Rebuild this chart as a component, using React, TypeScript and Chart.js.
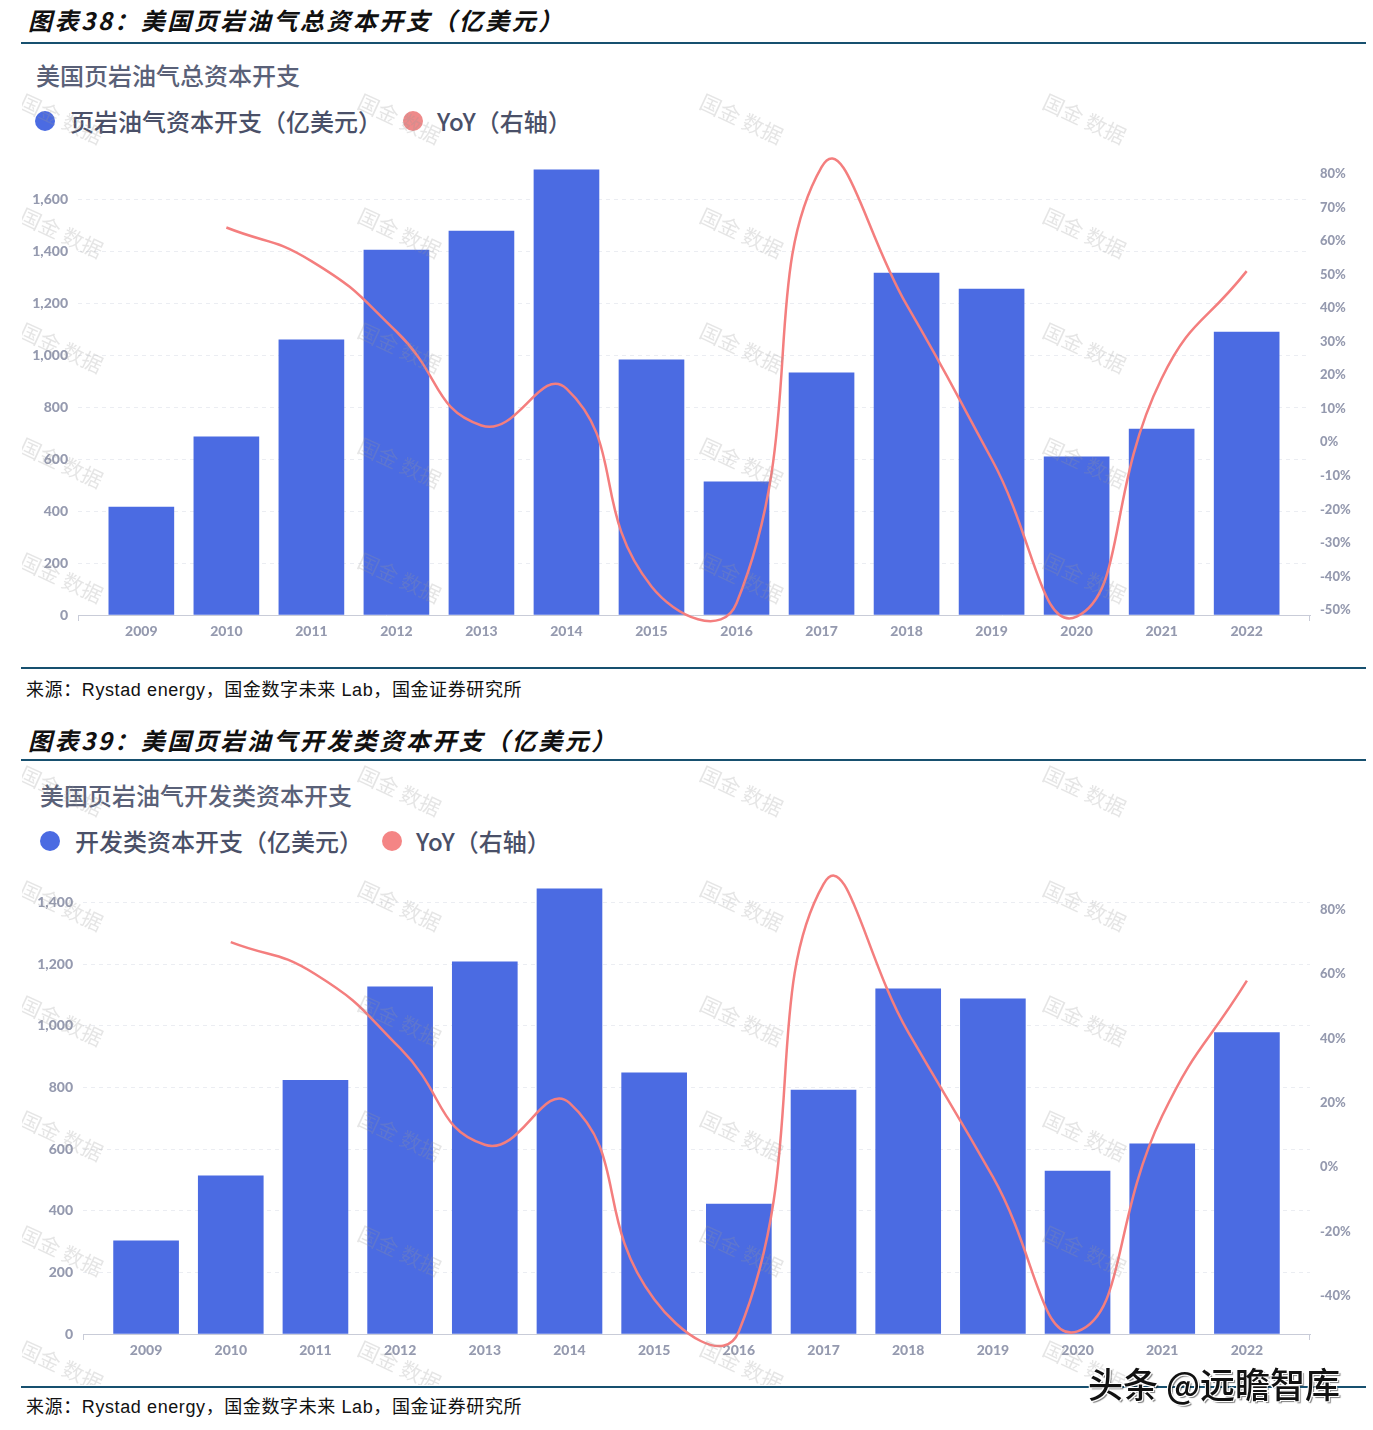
import React, { useEffect, useRef } from "react";
import { Chart, registerables } from "chart.js";

Chart.register(...registerables);

// ---------- data ----------
const years = ["2009", "2010", "2011", "2012", "2013", "2014", "2015", "2016", "2017", "2018", "2019", "2020", "2021", "2022"];

// 图表38
const totalCapex = [415, 685, 1058, 1404, 1477, 1712, 981, 512, 931, 1315, 1254, 608, 715, 1088];
const totalYoY: (number | null)[] = [null, 64, 54, 33, 5, 16, -43, -48, 82, 41, -5, -52, 19, 51];
const totalLeftTicks = [0, 200, 400, 600, 800, 1000, 1200, 1400, 1600];
const totalRightTicks = [-50, -40, -30, -20, -10, 0, 10, 20, 30, 40, 50, 60, 70, 80];

// 图表39
const devCapex = [302, 513, 823, 1127, 1208, 1445, 848, 422, 792, 1120, 1088, 529, 617, 978];
const devYoY: (number | null)[] = [null, 70, 60, 37, 7, 20, -41, -51, 88, 42, -3, -51, 16, 58];
const devLeftTicks = [0, 200, 400, 600, 800, 1000, 1200, 1400];
const devRightTicks = [-40, -20, 0, 20, 40, 60, 80];

// ---------- styles ----------
const BAR_COLOR = "#4b6be2";
const LINE_COLOR = "#f47e7e";
const TICK_COLOR = "#959aaf";
const CJK = '"Noto Sans CJK SC", "Noto Sans", sans-serif';
const TEAL = "#17506f";

const endTicks = {
  id: "endTicks",
  afterDraw(chart: any) {
    const { ctx, chartArea } = chart;
    ctx.save();
    ctx.strokeStyle = "#c9ccd8";
    ctx.lineWidth = 1;
    ctx.beginPath();
    ctx.moveTo(Math.round(chartArea.left) + 0.5, chartArea.bottom);
    ctx.lineTo(Math.round(chartArea.left) + 0.5, chartArea.bottom + 6);
    ctx.moveTo(Math.round(chartArea.right) - 0.5, chartArea.bottom);
    ctx.lineTo(Math.round(chartArea.right) - 0.5, chartArea.bottom + 6);
    ctx.stroke();
    ctx.restore();
  },
};

type ComboProps = {
  top: number;
  height: number;
  capex: number[];
  yoy: (number | null)[];
  leftTicks: number[];
  leftMax: number;
  rightTicks: number[];
  rightMin: number;
  rightMax: number;
  leftWidth: number;
  rightWidth: number;
  xHeight: number;
  padTop: number;
  barLabel: string;
};

function ComboChart(p: ComboProps) {
  const ref = useRef<HTMLCanvasElement | null>(null);
  useEffect(() => {
    let chart: Chart | null = null;
    let cancelled = false;
    const build = () => {
      if (cancelled || !ref.current) return;
      const barData = p.capex.map((v, i) => ({ x: i, y: v }));
      const lineData = p.yoy
        .map((v, i) => ({ x: i, y: v }))
        .filter((d) => d.y !== null) as { x: number; y: number }[];
      const tickFont = { family: "Lato", size: 14, weight: "900" as any };
      chart = new Chart(ref.current, {
        type: "bar",
        data: {
          datasets: [
            {
              type: "line",
              label: "YoY（右轴）",
              data: lineData,
              yAxisID: "y1",
              xAxisID: "x",
              borderColor: LINE_COLOR,
              borderWidth: 2.5,
              pointRadius: 0,
              tension: 0.5,
              capBezierPoints: false,
              fill: false,
              clip: false as any,
              order: 0,
            } as any,
            {
              type: "bar",
              label: p.barLabel,
              data: barData,
              yAxisID: "y",
              xAxisID: "x",
              backgroundColor: BAR_COLOR,
              barThickness: 65,
              order: 1,
            } as any,
          ],
        },
        options: {
          responsive: false,
          animation: false,
          devicePixelRatio: 1,
          elements: { line: { capBezierPoints: false } },
          layout: { padding: { top: p.padTop, left: 0, right: 0, bottom: 0 } },
          plugins: { legend: { display: false }, tooltip: { enabled: false }, title: { display: false } },
          scales: {
            x: {
              type: "linear",
              position: "bottom",
              offset: false,
              min: -0.745,
              max: 13.745,
              afterBuildTicks: (s: any) => {
                s.ticks = years.map((_, i) => ({ value: i }));
              },
              afterFit: (s: any) => {
                s.height = p.xHeight;
                s.paddingLeft = 0;
                s.paddingRight = 0;
              },
              grid: { display: false, drawTicks: false, offset: false },
              border: { display: true, color: "#c9ccd8", width: 1 },
              ticks: {
                autoSkip: false,
                maxRotation: 0,
                padding: 8,
                color: TICK_COLOR,
                font: tickFont,
                callback: (v: any) => years[Math.round(Number(v))] ?? "",
              },
            },
            y: {
              type: "linear",
              position: "left",
              min: 0,
              max: p.leftMax,
              afterBuildTicks: (s: any) => {
                s.ticks = p.leftTicks.map((v) => ({ value: v }));
              },
              afterFit: (s: any) => {
                s.width = p.leftWidth;
                s.paddingTop = 0;
                s.paddingBottom = 0;
              },
              grid: { color: "#ebedf2", drawTicks: false, lineWidth: 1 },
              border: { display: false, dash: [4, 4] },
              ticks: {
                padding: 10,
                color: TICK_COLOR,
                font: tickFont,
                callback: (v: any) => Number(v).toLocaleString("en-US"),
              },
            },
            y1: {
              type: "linear",
              position: "right",
              min: p.rightMin,
              max: p.rightMax,
              afterBuildTicks: (s: any) => {
                s.ticks = p.rightTicks.map((v) => ({ value: v }));
              },
              afterFit: (s: any) => {
                s.width = p.rightWidth;
                s.paddingTop = 0;
                s.paddingBottom = 0;
              },
              grid: { display: false, drawTicks: false },
              border: { display: false },
              ticks: {
                padding: 10,
                color: TICK_COLOR,
                font: { family: "Lato", size: 13, weight: "900" as any },
                callback: (v: any) => `${v}%`,
              },
            },
          },
        } as any,
        plugins: [endTicks],
      });
    };
    const fonts: any = (document as any).fonts;
    if (fonts && fonts.load) {
      Promise.all([fonts.load('900 14px "Lato"'), fonts.load('bold 13px "Lato"')])
        .catch(() => null)
        .then(build);
    } else {
      build();
    }
    return () => {
      cancelled = true;
      if (chart) chart.destroy();
    };
  }, []);
  return (
    <canvas
      ref={ref}
      width={1373}
      height={p.height}
      style={{ position: "absolute", left: 0, top: p.top, width: 1373, height: p.height, display: "block" }}
    />
  );
}

function Rule({ y }: { y: number }) {
  return <div style={{ position: "absolute", left: 21, top: y - 1, width: 1345, height: 2, background: TEAL }} />;
}

function FigTitle({ y, text }: { y: number; text: string }) {
  return (
    <div
      style={{
        position: "absolute",
        left: 28,
        top: y - 16,
        fontFamily: CJK,
        fontSize: 24,
        fontWeight: 700,
        fontStyle: "italic",
        letterSpacing: 2.5,
        lineHeight: "32px",
        color: "#111",
        whiteSpace: "nowrap",
      }}
    >
      {text}
    </div>
  );
}

function Source({ y }: { y: number }) {
  return (
    <div
      style={{
        position: "absolute",
        left: 26,
        top: y - 12,
        fontFamily: '"Liberation Sans", "Noto Sans CJK SC", sans-serif',
        fontSize: 18,
        letterSpacing: 0.6,
        lineHeight: "24px",
        color: "#111",
        whiteSpace: "nowrap",
      }}
    >
      来源：Rystad energy，国金数字未来 Lab，国金证券研究所
    </div>
  );
}

function SubHead({ x, y, text }: { x: number; y: number; text: string }) {
  return (
    <div
      style={{
        position: "absolute",
        left: x,
        top: y - 16,
        fontFamily: CJK,
        fontSize: 24,
        fontWeight: 500,
        lineHeight: "32px",
        color: "#5a6178",
        whiteSpace: "nowrap",
      }}
    >
      {text}
    </div>
  );
}

function LegendItem({ cx, y, tx, color, text }: { cx: number; y: number; tx: number; color: string; text: string }) {
  return (
    <>
      <div
        style={{
          position: "absolute",
          left: cx - 10,
          top: y - 10,
          width: 20,
          height: 20,
          borderRadius: 10,
          background: color,
        }}
      />
      <div
        style={{
          position: "absolute",
          left: tx,
          top: y - 16,
          fontFamily: CJK,
          fontSize: 24,
          fontWeight: 500,
          lineHeight: "32px",
          color: "#4a5068",
          whiteSpace: "nowrap",
        }}
      >
        {text}
      </div>
    </>
  );
}

function Watermarks({ top, height, rows }: { top: number; height: number; rows: number[] }) {
  const cols = [62, 400, 742, 1085];
  const left = 22;
  const items: any[] = [];
  rows.forEach((cy, r) =>
    cols.forEach((cx, c) => {
      items.push(
        <div
          key={`${r}-${c}`}
          style={{
            position: "absolute",
            left: cx - 50 - left,
            top: cy - 13 - top,
            width: 100,
            textAlign: "center",
            fontFamily: CJK,
            fontSize: 21,
            lineHeight: "26px",
            color: "rgba(150,150,150,0.25)",
            transform: "rotate(25deg)",
            whiteSpace: "nowrap",
          }}
        >
          国金 数据
        </div>
      );
    })
  );
  return (
    <div
      style={{
        position: "absolute",
        left,
        top,
        width: 1344,
        height,
        overflow: "hidden",
        pointerEvents: "none",
      }}
    >
      {items}
    </div>
  );
}

export default function App() {
  return (
    <div
      style={{
        position: "absolute",
        left: 0,
        top: 0,
        width: 1373,
        height: 1430,
        overflow: "hidden",
        background: "#fff",
      }}
    >
      <div style={{ position: "absolute", left: -500, top: 0, fontFamily: "Lato", fontWeight: 900 }}>0</div>
      {/* Figure 38 */}
      <FigTitle y={20} text="图表38：美国页岩油气总资本开支（亿美元）" />
      <Rule y={43} />
      <SubHead x={36} y={75} text="美国页岩油气总资本开支" />
      <LegendItem cx={45} y={121} tx={70} color={BAR_COLOR} text="页岩油气资本开支（亿美元）" />
      <LegendItem cx={413} y={121} tx={437} color="#ee8a8a" text="YoY（右轴）" />
      <ComboChart
        top={140}
        height={510}
        capex={totalCapex}
        yoy={totalYoY}
        leftTicks={totalLeftTicks}
        leftMax={1800}
        rightTicks={totalRightTicks}
        rightMin={-51.5}
        rightMax={88}
        leftWidth={78}
        rightWidth={63}
        xHeight={35}
        padTop={7}
        barLabel="页岩油气资本开支（亿美元）"
      />
      <Watermarks top={45} height={620} rows={[118, 232, 347, 462, 577]} />
      <Rule y={668} />
      <Source y={690} />

      {/* Figure 39 */}
      <FigTitle y={740} text="图表39：美国页岩油气开发类资本开支（亿美元）" />
      <Rule y={760} />
      <SubHead x={40} y={795} text="美国页岩油气开发类资本开支" />
      <LegendItem cx={50} y={841} tx={75} color={BAR_COLOR} text="开发类资本开支（亿美元）" />
      <LegendItem cx={392} y={841} tx={416} color="#f48585" text="YoY（右轴）" />
      <ComboChart
        top={835}
        height={535}
        capex={devCapex}
        yoy={devYoY}
        leftTicks={devLeftTicks}
        leftMax={1600}
        rightTicks={devRightTicks}
        rightMin={-51.8}
        rightMax={101.4}
        leftWidth={83}
        rightWidth={63}
        xHeight={36}
        padTop={6}
        barLabel="开发类资本开支（亿美元）"
      />
      <Watermarks top={762} height={623} rows={[790, 905, 1020, 1135, 1250, 1365]} />
      <Rule y={1387} />
      <Source y={1407} />
      <div
        style={{
          position: "absolute",
          left: 1088,
          top: 1361,
          fontFamily: CJK,
          fontSize: 35,
          fontWeight: 500,
          lineHeight: "44px",
          color: "#111",
          whiteSpace: "nowrap",
          textShadow: "1px 1px 0 #fff, -1px -1px 0 #fff, 1px -1px 0 #fff, -1px 1px 0 #fff, 2px 2px 1px rgba(0,0,0,0.5)",
        }}
      >
        头条 @远瞻智库
      </div>
    </div>
  );
}
